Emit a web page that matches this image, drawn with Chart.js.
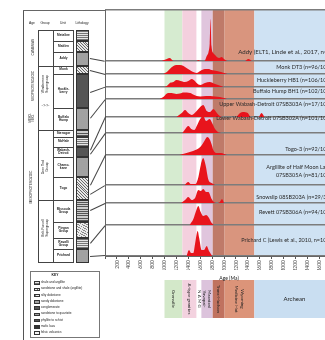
<!DOCTYPE html>
<html><head><meta charset="utf-8">
<script src="https://cdn.jsdelivr.net/npm/chart.js@4"></script>
<style>
html,body{margin:0;padding:0;background:#fff;}
body{width:325px;height:340px;overflow:hidden;position:relative;font-family:"Liberation Sans",Arial,sans-serif;}
#c{position:absolute;left:0;top:0;}
.d{position:absolute;box-sizing:border-box;}
.t{position:absolute;white-space:nowrap;color:#222;line-height:1;}
</style></head><body>
<canvas id="c" width="380" height="340"></canvas>
<div id="col"></div>
<script>
// ---------------- DATA ----------------
const ageTicks = [0,200,400,600,800,1000,1200,1400,1600,1800,2000,2200,2400,2600,2800,3000,3200,3400,3600,3800,4000];
const sampleNames = [
  'Addy (ELT1, Linde et al., 2017, n=108/110)',
  'Monk DT3 (n=96/100)',
  'Huckleberry HB1 (n=106/108)',
  'Buffalo Hump BH1 (n=102/105)',
  'Upper Wabash-Detroit 07SB303A (n=17/100)',
  'Lower Wabash-Detroit 07SB302A (n=101/105)',
  'Togo-3 (n=92/100)',
  ['Argillite of Half Moon Lake','07SB305A (n=81/100)'],
  'Snowslip 08SB203A (n=29/30)',
  'Revett 07SB306A (n=94/100)',
  'Prichard C (Lewis et al., 2010, n=100)'
];
// [age Ma, relative density]
const addy   = [[950,0],[1040,2],[1090,3],[1150,0],[1540,0],[1570,1],[1600,0],[1670,0],[1710,5],[1740,9],[1760,18],[1775,42],[1790,15],[1820,8],[1850,6],[1880,4],[1920,3],[1960,4],[2000,2],[2060,0],[2350,0],[2410,2],[2470,0]];
const monk   = [[980,0],[1040,2],[1090,5],[1150,8],[1200,9],[1260,9],[1320,8],[1370,6],[1450,3],[1540,1],[1600,3],[1680,5],[1740,5],[1790,4],[1880,3],[1950,2],[2000,1],[2060,0]];
const huck   = [[1000,0],[1040,1],[1090,4],[1150,5],[1200,7],[1270,6],[1340,5],[1400,6],[1460,8],[1510,6],[1540,4],[1600,2],[1680,4],[1760,5],[1850,3],[1950,1],[2000,0]];
const buff   = [[920,0],[980,2],[1060,6],[1120,6],[1200,5],[1260,5.5],[1320,6.5],[1430,6],[1500,4],[1540,3],[1600,2.5],[1700,3],[1770,3],[1850,2.5],[1930,2],[2000,1],[2050,0]];
const upperW = [[1200,0],[1290,4],[1345,7],[1400,4],[1460,2],[1540,6],[1600,10],[1650,12],[1710,6],[1765,5],[1820,8],[1880,4],[1930,1],[1980,0],[2200,0],[2270,4],[2320,5],[2400,4],[2450,0],[2580,0],[2630,4],[2680,0]];
const lowerW = [[1300,0],[1350,4],[1400,7],[1450,4],[1500,3],[1550,8],[1600,14],[1650,17],[1700,12],[1760,14],[1800,10],[1850,4],[1900,1],[1950,0]];
const togo   = [[1250,0],[1370,2],[1480,4],[1600,8],[1650,12],[1680,15],[1720,18],[1765,15],[1800,9],[1820,5],[1880,2],[1950,2],[2000,1],[2050,0]];
const argil  = [[1340,0],[1370,2],[1400,3],[1440,1],[1520,1],[1570,8],[1610,20],[1650,27],[1690,20],[1740,5],[1790,2],[1850,0]];
const snow   = [[1280,0],[1345,3],[1400,6],[1457,3],[1513,5],[1569,13],[1608,12],[1653,14],[1698,11],[1737,11],[1793,4],[1830,1],[1880,0],[1930,1],[1966,4],[2000,0]];
const revett = [[1420,0],[1485,6],[1530,14],[1569,19],[1608,13],[1653,9],[1698,10],[1737,8],[1793,2],[1830,0]];
const prich  = [[1370,0],[1412,6],[1446,3],[1485,3],[1513,12],[1541,22],[1557,25],[1583,18],[1625,6],[1664,6],[1709,10],[1748,5],[1800,0]];
const series = [addy,monk,huck,buff,upperW,lowerW,togo,argil,snow,revett,prich];

const provinces = ['Grenville','A-type granites','N A M G',['Yavapai-','Mazatzal'],'Trans-Hudson',['Medicine Hat','Wyoming'],'Archean'];
const provStart = [1000,1300,1540,1620,1810,2010,2510];
const provEnd   = [1300,1540,1620,1810,2010,2510,4000];

// ---------------- LAYOUT / STYLE ----------------
const rowBase = [195,182,169,157,139,123,101,71,53,31,0];
const labelY  = [52,67,80,91,104,118,149,[167,175],197,212,240];
const labelSize = [6.1,5.5,5.5,5.5,5.5,5.5,5.5,5.5,5.5,5.5,5.5];
const labelShift = [22,0,0,0,0,0,0,0,0,0,0];
const bandColors = ['#d6ebd0','#f4d0de','#ffffff','#e0c5dd','#bf7a69','#d9957e','#cfe2f3'];
const boxColors  = ['#d3e8c9','#f3d2df','#ffffff','#dcc3dc','#c0725f','#dc9479','#c9def1'];

const bandPlugin = {
  id:'bands',
  beforeDraw(chart){
    const {ctx, chartArea:a, scales:{x}} = chart;
    ctx.save();
    provStart.forEach((s,i)=>{
      const x0=x.getPixelForValue(s), x1=x.getPixelForValue(provEnd[i]);
      ctx.fillStyle=bandColors[i];
      ctx.fillRect(x0,a.top,x1-x0,a.bottom-a.top);
    });
    ctx.restore();
  },
  afterDatasetsDraw(chart){
    const {ctx, scales:{x}} = chart;
    ctx.save();
    ctx.fillStyle='#2a2a2a';
    ctx.textAlign='right'; ctx.textBaseline='middle';
    const rx = x.getPixelForValue(3800);
    sampleNames.forEach((n,i)=>{
      ctx.font=labelSize[i]+'px Lato, "Open Sans", sans-serif';
      if(Array.isArray(n)) n.forEach((s,j)=>ctx.fillText(s,rx+labelShift[i],labelY[i][j]));
      else ctx.fillText(n,rx+labelShift[i],labelY[i]);
    });
    ctx.restore();
  },
  afterDraw(chart){
    const {ctx, scales:{x}} = chart;
    ctx.save();
    const top=280, bot=318;
    provStart.forEach((s,i)=>{
      const x0=x.getPixelForValue(s), x1=x.getPixelForValue(provEnd[i]);
      ctx.fillStyle=boxColors[i];
      ctx.fillRect(x0,top,x1-x0,bot-top);
      const cx=(x0+x1)/2, cy=(top+bot)/2;
      ctx.fillStyle='#222';
      ctx.textAlign='center'; ctx.textBaseline='middle';
      if(i===6){
        ctx.font='6px Lato, sans-serif';
        ctx.fillText(provinces[i],x0+40,cy);
      } else {
        ctx.font='4.6px Lato, sans-serif';
        const lines = Array.isArray(provinces[i])?provinces[i]:[provinces[i]];
        ctx.save(); ctx.translate(cx,cy); ctx.rotate(Math.PI/2);
        lines.forEach((l,j)=>ctx.fillText(l,0,(j-(lines.length-1)/2)*-5.2));
        ctx.restore();
      }
    });
    ctx.fillStyle='#222'; ctx.font='5px Lato, sans-serif'; ctx.textAlign='center';
    ctx.fillText('Age (Ma)',229,278);
    ctx.restore();
  }
};

new Chart(document.getElementById('c'),{
  type:'line',
  data:{datasets: series.map((s,i)=>({
    data: s.map(([a,h])=>({x:a,y:rowBase[i]+h})),
    fill:{value:rowBase[i]},
    backgroundColor:'#e8141c',
    borderWidth:0,
    pointRadius:0,
    cubicInterpolationMode:'monotone'
  }))},
  options:{
    responsive:false, animation:false, devicePixelRatio:1,
    layout:{padding:{left:105,right:37,top:10,bottom:70}},
    plugins:{legend:{display:false},tooltip:{enabled:false}},
    scales:{
      x:{type:'linear',min:0,max:4000,
        afterBuildTicks:s=>{s.ticks=ageTicks.map(v=>({value:v}));},
        afterFit:s=>{s.height=14;},
        ticks:{autoSkip:false,minRotation:90,maxRotation:90,font:{size:5,family:'Lato'},color:'#444',padding:1,
          callback:v=>v===0?'':String(v)},
        grid:{drawOnChartArea:false,drawTicks:true,tickLength:3,color:'#555'},
        border:{display:true,color:'#666',width:1}
      },
      y:{min:0,max:246,
        afterBuildTicks:s=>{s.ticks=rowBase.concat([246]).map(v=>({value:v}));},
        afterFit:s=>{s.width=0;},
        ticks:{display:false},
        grid:{color:'#7c7c7c',lineWidth:1.6,drawTicks:false},
        border:{display:false}
      }
    }
  },
  plugins:[bandPlugin]
});

// ---------------- LEFT COLUMN (diagram) ----------------
const col=document.getElementById('col');
function box(x,y,w,h,st){const d=document.createElement('div');d.className='d';d.style.cssText=`left:${x}px;top:${y}px;width:${w}px;height:${h}px;`+(st||'');col.appendChild(d);return d;}
function txt(x,y,s,size,opt){opt=opt||{};const d=document.createElement('div');d.className='t';d.innerHTML=s;
  d.style.cssText=`left:${x}px;top:${y}px;font-size:${size}px;transform:translate(-50%,-50%)${opt.rot?' rotate('+opt.rot+'deg)':''};text-align:center;${opt.st||''}`;col.appendChild(d);return d;}
function line(x1,y1,x2,y2,c,w){const L=Math.hypot(x2-x1,y2-y1),a=Math.atan2(y2-y1,x2-x1)*180/Math.PI;
  box(x1,y1,L,w||0.8,`background:${c||'#444'};transform-origin:0 0;transform:rotate(${a}deg);`);}

const units = ['Metaline','Maitlen','Addy','Monk','Huckle-<br>berry','Buffalo<br>Hump','Stensgar','McHale','Wabash-<br>Detroit','Chamo-<br>kane','Togo','Missoula<br>Group','Piegan<br>Group','Ravalli<br>Group','Prichard'];
const unitTop = [30,41,52,66,74,108,130,137,147,157,177,200,222,238,249,263];
const pats = [
 'repeating-linear-gradient(0deg,#777 0 .8px,#e6e6e6 .8px 2px)',
 'repeating-linear-gradient(45deg,#6a6a6a 0 .7px,#e8e8e8 .7px 2px),repeating-linear-gradient(-45deg,#888 0 .6px,transparent .6px 2px)',
 'radial-gradient(#777 .6px,#efefef .9px) 0 0/2px 2px',
 'repeating-linear-gradient(30deg,#888 0 .7px,#ececec .7px 2.2px)',
 'radial-gradient(#555 .8px,#cfcfcf 1px) 0 0/2px 2px',
 'repeating-linear-gradient(0deg,#555 0 .8px,#ccc .8px 1.8px)'
];
const unitPat=[0,1,2,1,4,2,5,0,4,2,1,5,3,0,2];

// frame
box(23,10,0.9,330,'background:#555;');
box(23,10,82,0.9,'background:#666;');
box(105,10,0.9,247,'background:#666;');
// headers
txt(32,24,'Age',3.3);txt(45,24,'Group',3.3);txt(63,24,'Unit',3.3);txt(82,24,'Lithology',3.3);
// table
box(38,30,36,233,'border:0.8px solid #444;');
box(53,30,0.8,233,'background:#444;');
units.forEach((u,i)=>{
  const y0=unitTop[i],h=unitTop[i+1]-y0;
  box(53,y0,21,0.8,'background:#444;');
  txt(63.5,y0+h/2,u,3.2,{st:'font-weight:bold;'});
  box(76,y0,13,h,'border:0.6px solid #333;background:'+pats[unitPat[i]]+';');
});
[66,130,200].forEach(y=>box(38,y,15,0.8,'background:#444;'));
// age and group text
txt(34,47,'CAMBRIAN',3.2,{rot:-90});
txt(34,86,'NEOPROTEROZOIC',3.2,{rot:-90});
txt(31.5,118,'MESO-<br>NEO-',2.8,{rot:-90});
txt(32,187,'MESOPROTEROZOIC',3.2,{rot:-90});
txt(45.5,84,'Windermere<br>Supergroup',3.4,{rot:-90,st:'line-height:1.1;'});
txt(45.5,106,'~?~?~',2.8);
txt(45.5,167,'Deer Trail<br>Group',3.4,{rot:-90,st:'line-height:1.1;'});
txt(45.5,228,'Belt-Purcell<br>Supergroup',3.4,{rot:-90,st:'line-height:1.1;'});
// connectors
const conn=[[58,60.7],[70,74],[92,86.7],[118,99],[150,116.7],[154,133],[185,155],[194,185],[210,203],[243,225],[256,255]];
conn.forEach(([a,b])=>line(90,a,105,b,'#444',0.7));
// key
box(30,271,70,67,'border:0.8px solid #777;');
txt(55,276,'KEY',3.4,{st:'font-weight:bold;'});
const keyItems=['shale and argillite','sandstone and shale (argillite)','silty dolostone','sandy dolostone','conglomerate','sandstone to quartzite','phyllite to schist','mafic lava','felsic volcanics'];
const keyPat=[0,1,3,2,4,2,5,-1,-2];
keyItems.forEach((k,i)=>{
  const y=283+i*6.25;
  const bg = keyPat[i]===-1?'#333':keyPat[i]===-2?'#f4f4f4':pats[keyPat[i]];
  box(34,y-1.7,6,3.6,'border:0.5px solid #333;background:'+bg+';');
  const d=txt(41,y,k,3.1);d.style.transform='translate(0,-50%)';
});
</script></body></html>
